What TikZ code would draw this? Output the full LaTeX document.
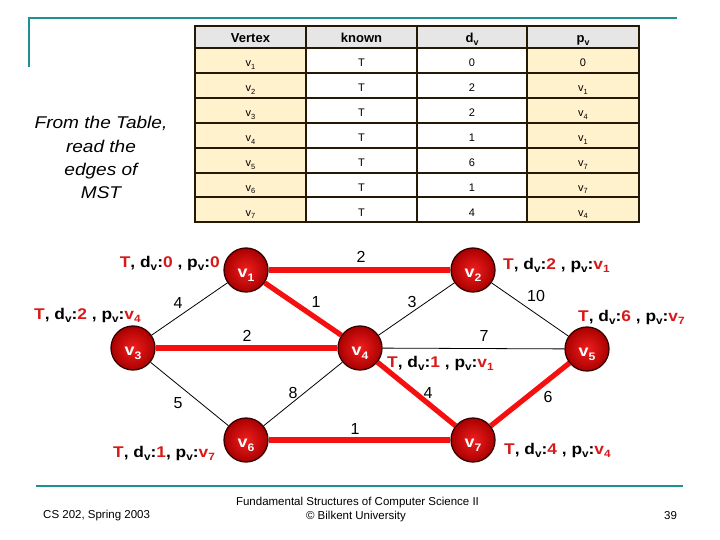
\documentclass[tikz,border=0pt]{standalone}
\usepackage{fontspec}
\usepackage{graphicx}
\setmainfont{Liberation Sans}
\newfontfamily\wide[FakeStretch=1.12]{Liberation Sans}
\usetikzlibrary{backgrounds}
\definecolor{teal1}{RGB}{30,145,145}
\definecolor{tred}{RGB}{215,25,25}
\definecolor{ered}{RGB}{245,15,15}
\definecolor{hdr}{RGB}{230,230,230}
\definecolor{yel}{RGB}{255,242,204}
\definecolor{tline}{RGB}{35,25,5}
\definecolor{nin}{RGB}{240,30,30}
\definecolor{nout}{RGB}{170,0,0}
\definecolor{nedge}{RGB}{55,0,0}
\newcommand\sbs[1]{\raisebox{-0.42ex}{\scalebox{0.68}{#1}}}
\newcommand\rd[1]{\textcolor{tred}{#1}}
\begin{document}
\begin{tikzpicture}[x=1pt,y=-1pt,
  vnode/.style={circle,minimum size=44pt,inner sep=0pt,draw=nedge,line width=1.3pt,
    inner color=nin,outer color=nout,text=white,text height=15pt,text depth=0pt,
    font=\wide\bfseries\fontsize{16}{18}\selectfont},
  redge/.style={draw=ered,line width=5.2pt},
  bedge/.style={draw=black,line width=0.8pt},
  wlab/.style={font=\fontsize{16}{18}\selectfont,inner sep=0pt},
  stat/.style={font=\wide\bfseries\fontsize{15.5}{18}\selectfont,inner sep=0pt},
  hcell/.style={font=\bfseries\fontsize{13}{15}\selectfont,inner sep=0pt,anchor=base},
  bcell/.style={font=\fontsize{11}{13}\selectfont,inner sep=0pt,anchor=base},
  note/.style={font=\wide\itshape\fontsize{17}{20}\selectfont,inner sep=0pt,anchor=base},
  foot/.style={font=\fontsize{11.5}{14}\selectfont,inner sep=0pt},
  teal/.style={draw=teal1,line width=2.7pt}]
\useasboundingbox (0,0) rectangle (720,540);
% frame lines
\draw[teal] (29,67) -- (29,18) -- (677,18);
\draw[teal] (36,486) -- (683,486);
% table
\fill[hdr] (195,26) rectangle (639,48);
\fill[yel] (195,48) rectangle (306,222);
\fill[yel] (527,48) rectangle (639,222);
\foreach \yy in {48,73,98,123,148,173,197} \draw[tline,line width=1.6pt] (195,\yy) -- (639,\yy);
\foreach \xx in {306,417,527} \draw[tline,line width=1.6pt] (\xx,26) -- (\xx,222);
\draw[tline,line width=2.2pt] (195,26) rectangle (639,222);
\node[hcell] (h1) at (250.5,42.5) {Vertex};
\node[hcell] (h2) at (361.5,42.5) {known};
\node[hcell] (h3) at (472,42.5) {d\sbs{v}};
\node[hcell] (h4) at (583,42.5) {p\sbs{v}};
\foreach \r/\yy/\d/\p in {1/67/0/0, 2/92/2/v\sbs{1}, 3/117/2/v\sbs{4}, 4/142/1/v\sbs{1},
  5/167/6/v\sbs{7}, 6/191.5/1/v\sbs{7}, 7/216/4/v\sbs{4}}{
  \node[bcell] (c\r a) at (250.5,\yy) {v\sbs{\r}};
  \node[bcell] (c\r b) at (361.5,\yy) {T};
  \node[bcell] (c\r c) at (472,\yy) {\d};
  \node[bcell] (c\r d) at (583,\yy) {\p};
}
% side note
\node[note] (n1) at (101,129) {From the Table,};
\node[note] (n2) at (101,152.5) {read the};
\node[note] (n3) at (101,176) {edges of};
\node[note] (n4) at (101,199) {MST};
% graph nodes
\node[vnode] (v1) at (246,270) {v\sbs{1}};
\node[vnode] (v2) at (473,270) {v\sbs{2}};
\node[vnode] (v3) at (133,348) {v\sbs{3}};
\node[vnode] (v4) at (360,348) {v\sbs{4}};
\node[vnode] (v5) at (587,349) {v\sbs{5}};
\node[vnode] (v6) at (246,440) {v\sbs{6}};
\node[vnode] (v7) at (473,440) {v\sbs{7}};
\begin{scope}[on background layer]
\draw[bedge] (v1) -- (v3);
\draw[bedge] (v2) -- (v4);
\draw[bedge] (v2) -- (v5);
\draw[bedge] (v4) -- (v5);
\draw[bedge] (v3) -- (v6);
\draw[bedge] (v4) -- (v6);
\draw[redge] (v1) -- (v2);
\draw[redge] (v1) -- (v4);
\draw[redge] (v3) -- (v4);
\draw[redge] (v4) -- (v7);
\draw[redge] (v6) -- (v7);
\draw[redge] (v7) -- (v5);
\end{scope}
% weights
\node[wlab] (w12) at (361,257) {2};
\node[wlab] (w14) at (316,302) {1};
\node[wlab] (w13) at (178,303) {4};
\node[wlab] (w24) at (412,302) {3};
\node[wlab] (w34) at (247,336) {2};
\node[wlab] (w25) at (536,296) {10};
\node[wlab] (w45) at (484,336) {7};
\node[wlab] (w36) at (178,403) {5};
\node[wlab] (w46) at (293,393) {8};
\node[wlab] (w47) at (428,393) {4};
\node[wlab] (w67) at (355,429) {1};
\node[wlab] (w75) at (548,397) {6};
% status labels
\node[stat,anchor=base east] (s1) at (220,267) {\rd{T}, d\sbs{v}:\rd{0} , p\sbs{v}:\rd{0}};
\node[stat,anchor=base west] (s2) at (503,269) {\rd{T}, d\sbs{v}:\rd{2} , p\sbs{v}:\rd{v\sbs{1}}};
\node[stat,anchor=base west] (s3) at (34,319) {\rd{T}, d\sbs{v}:\rd{2} , p\sbs{v}:\rd{v\sbs{4}}};
\node[stat,anchor=base west] (s4) at (387,367) {\rd{T}, d\sbs{v}:\rd{1} , p\sbs{v}:\rd{v\sbs{1}}};
\node[stat,anchor=base west] (s5) at (578,321) {\rd{T}, d\sbs{v}:\rd{6} , p\sbs{v}:\rd{v\sbs{7}}};
\node[stat,anchor=base west] (s6) at (113,457) {\rd{T}, d\sbs{v}:\rd{1}, p\sbs{v}:\rd{v\sbs{7}}};
\node[stat,anchor=base west] (s7) at (504,454) {\rd{T}, d\sbs{v}:\rd{4} , p\sbs{v}:\rd{v\sbs{4}}};
% footer
\node[foot,anchor=west] (f1) at (43,516) {CS 202, Spring 2003};
\node[foot] (f2) at (357.5,503) {Fundamental Structures of Computer Science II};
\node[foot] (f3) at (356,517) {© Bilkent University};
\node[foot] (f4) at (670.5,516) {39};
\end{tikzpicture}
\end{document}
